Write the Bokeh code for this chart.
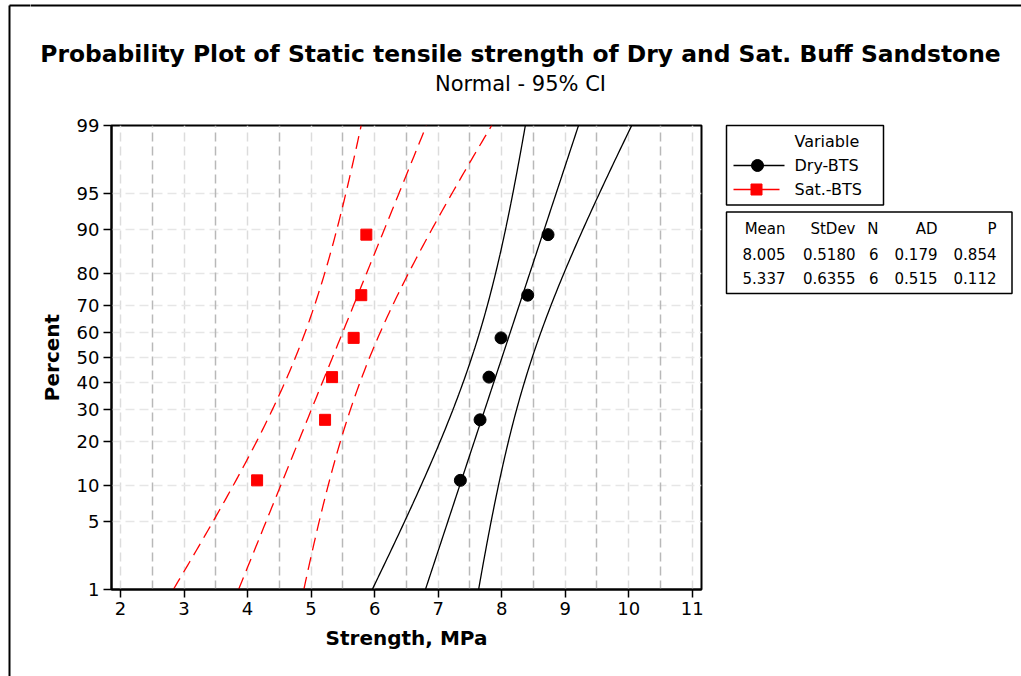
from statistics import NormalDist

import numpy as np
from bokeh.core.properties import value
from bokeh.embed import file_html
from bokeh.layouts import column, row
from bokeh.models import CustomJSTickFormatter, FixedTicker, Grid, Range1d
from bokeh.plotting import figure
from bokeh.resources import INLINE

# ---- data -----------------------------------------------------------------
dry_strength = [7.35, 7.66, 7.80, 7.99, 8.41, 8.73]
sat_strength = [4.15, 5.22, 5.33, 5.67, 5.79, 5.87]
plot_percent = [10.9, 26.6, 42.2, 57.8, 73.4, 89.1]

series_names = ["Dry-BTS", "Sat.-BTS"]
series_mean = [8.005, 5.337]
series_stdev = [0.5180, 0.6355]
series_n = [6, 6]
series_ad = [0.179, 0.515]
series_p = [0.854, 0.112]

percent_ticks = [1, 5, 10, 20, 30, 40, 50, 60, 70, 80, 90, 95, 99]
x_ticks = [2, 3, 4, 5, 6, 7, 8, 9, 10, 11]
x_half_ticks = [2.5, 3.5, 4.5, 5.5, 6.5, 7.5, 8.5, 9.5, 10.5]

FONT = "DejaVu Sans"
nd = NormalDist()


def zscore(pct):
    return nd.inv_cdf(pct / 100.0)


def blank(width, height, x0, x1, y0, y1):
    """A figure with no axes whose frame fills it, in pixel-like coordinates (y down)."""
    f = figure(width=width, height=height, output_backend="svg", toolbar_location=None,
               title=None, x_range=Range1d(x0, x1), y_range=Range1d(y1, y0),
               min_border=0, x_axis_type=None, y_axis_type=None, frame_align=False)
    f.grid.visible = False
    f.outline_line_color = None
    f.background_fill_color = "white"
    f.border_fill_color = "white"
    return f


def put_text(f, x, y, text, size, bold=False, align="left"):
    f.text([x], [y], text=[text], text_font=value(FONT), text_font_size=size,
           text_align=align, text_baseline="middle", text_color="black",
           text_font_style="bold" if bold else "normal")


# ---- left margin strip (page frame) ----------------------------------------
left = blank(30, 676, 0, 30, 0, 676)
left.line([9, 9], [5, 700], line_color="black", line_width=2)
left.line([9, 40], [5, 5], line_color="black", line_width=2)

# ---- title strip ------------------------------------------------------------
top = blank(991, 110, 30, 1021, 0, 110)
top.line([20, 1030], [5, 5], line_color="black", line_width=2)
put_text(top, 520, 53, "Probability Plot of Static tensile strength of Dry and Sat. Buff Sandstone",
         "23.4px", bold=True, align="center")
put_text(top, 520, 83, "Normal - 95% CI", "21px", align="center")

# ---- probability plot -------------------------------------------------------
z_lo, z_hi = zscore(1), zscore(99)
z_ticks = [zscore(v) for v in percent_ticks]

p = figure(width=690, height=566, output_backend="svg", toolbar_location=None,
           x_range=Range1d(1.858, 11.146), y_range=Range1d(z_lo, z_hi),
           min_border_left=81, min_border_right=19,
           min_border_top=15, min_border_bottom=87, frame_align=False)
p.background_fill_color = "white"
p.border_fill_color = "white"
p.outline_line_color = "black"
p.outline_line_width = 2

p.xaxis.ticker = FixedTicker(ticks=x_ticks)
p.yaxis.ticker = FixedTicker(ticks=z_ticks)
p.yaxis.formatter = CustomJSTickFormatter(
    args=dict(zs=z_ticks, labels=[str(v) for v in percent_ticks]),
    code="""
        let best = 0;
        for (let i = 1; i < zs.length; i++) {
            if (Math.abs(zs[i] - tick) < Math.abs(zs[best] - tick)) best = i;
        }
        return labels[best];
    """)
for ax in (p.xaxis, p.yaxis):
    ax.axis_line_color = "black"
    ax.axis_line_width = 2
    ax.major_tick_line_color = "black"
    ax.major_tick_line_width = 1.5
    ax.major_tick_out = 8
    ax.major_tick_in = 0
    ax.minor_tick_line_color = None
    ax.major_label_text_font = FONT
    ax.major_label_text_font_size = "18px"
    ax.major_label_text_color = "black"
    ax.axis_label_text_font = FONT
    ax.axis_label_text_font_style = "bold"
    ax.axis_label_text_color = "black"
    ax.axis_label_text_font_size = "20px"
p.xaxis.axis_label = "Strength, MPa"
p.xaxis.axis_label_standoff = 8
p.xaxis.major_label_standoff = 4
p.yaxis.axis_label = "Percent"
p.yaxis.axis_label_standoff = 10
p.yaxis.major_label_standoff = 4

p.xgrid.ticker = FixedTicker(ticks=x_ticks)
p.xgrid.grid_line_color = "#dcdcdc"
p.xgrid.grid_line_dash = "9 5"
p.xgrid.grid_line_width = 1.5
p.ygrid.ticker = FixedTicker(ticks=z_ticks)
p.ygrid.grid_line_color = "#e6e6e6"
p.ygrid.grid_line_dash = "9 5"
p.ygrid.grid_line_width = 1.5
p.add_layout(Grid(dimension=0, ticker=FixedTicker(ticks=x_half_ticks),
                  grid_line_color="#b8b8b8", grid_line_dash="9 5", grid_line_width=1.5))

# fitted normal lines with their 95% confidence bands
zz = np.linspace(z_lo, z_hi, 120)
styles = [dict(line_color="black", line_dash="solid"),
          dict(line_color="red", line_dash="13 7")]
for mean, sd, st in zip(series_mean, series_stdev, styles):
    fit = mean + sd * zz
    half = 1.96 * sd * np.sqrt(0.22 + 0.085 * zz ** 2)
    for xs in (fit - half, fit, fit + half):
        p.line(xs, zz, line_width=1.3, **st)

zp = [zscore(v) for v in plot_percent]
p.scatter(dry_strength, zp, marker="circle", size=12, fill_color="black", line_color="black")
p.scatter(sat_strength, zp, marker="square", size=11, fill_color="red", line_color="red")

# ---- legend and statistics table -------------------------------------------
side = blank(301, 566, 720, 1021, 110, 676)
side.quad(left=[726], right=[883], top=[125], bottom=[204.5],
          fill_color=None, line_color="black", line_width=1.5)
put_text(side, 794, 141, "Variable", "16px")
put_text(side, 794, 165, series_names[0], "16px")
put_text(side, 794, 189, series_names[1], "16px")
side.line([733, 784], [165, 165], line_color="black", line_width=1.5)
side.scatter([757], [165], marker="circle", size=12, fill_color="black", line_color="black")
side.line([733, 779], [189, 189], line_color="red", line_width=1.5)
side.scatter([756], [189], marker="square", size=11, fill_color="red", line_color="red")

side.quad(left=[726], right=[1011.5], top=[211.5], bottom=[293],
          fill_color=None, line_color="black", line_width=1.5)
cols_right = [785, 855, 878, 937, 996]
headers = ["Mean", "StDev", "N", "AD", "P"]
for xr, h in zip(cols_right, headers):
    put_text(side, xr, 228, h, "15px", align="right")
for i in range(2):
    cells = [f"{series_mean[i]:.3f}", f"{series_stdev[i]:.4f}", f"{series_n[i]}",
             f"{series_ad[i]:.3f}", f"{series_p[i]:.3f}"]
    for xr, t in zip(cols_right, cells):
        put_text(side, xr, 253 + 24.5 * i, t, "15px", align="right")

layout = row(left, column(top, row(p, side)))
open("out.html", "w").write(file_html(layout, INLINE))
